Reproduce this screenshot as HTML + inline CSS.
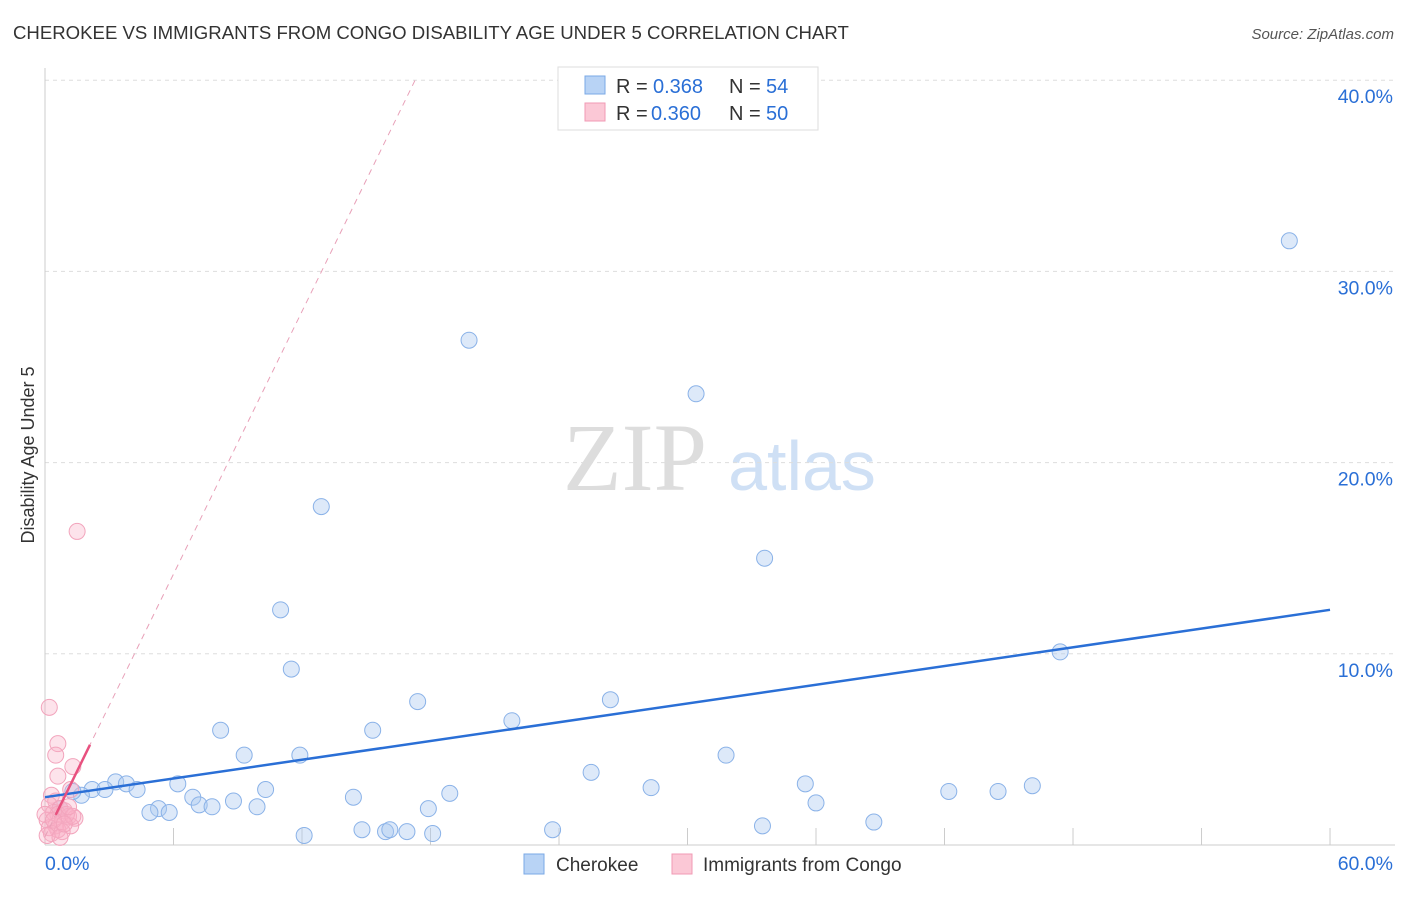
<!DOCTYPE html>
<html><head><meta charset="utf-8"><style>
body{margin:0;background:#fff;font-family:"Liberation Sans",sans-serif;}
</style></head><body>
<svg id="chart" width="1406" height="892" xmlns="http://www.w3.org/2000/svg" font-family="Liberation Sans, sans-serif">
<text x="13" y="39" font-size="18.6" fill="#333">CHEROKEE VS IMMIGRANTS FROM CONGO DISABILITY AGE UNDER 5 CORRELATION CHART</text>
<text x="1394" y="39" font-size="15" fill="#555" text-anchor="end" font-style="italic">Source: ZipAtlas.com</text>
<text transform="translate(34,455) rotate(-90)" font-size="18" fill="#333" text-anchor="middle">Disability Age Under 5</text>
<g>
<text x="635" y="490" font-size="96" fill="#ddd" style="font-family:'Liberation Serif',serif" text-anchor="middle">ZIP</text>
<text x="802" y="490" font-size="70" fill="#cfe0f5" text-anchor="middle">atlas</text>
</g>
<g id="grid"></g><g id="axes"></g><g id="pts"></g><g id="lines"></g>
<g>
<rect x="558" y="67" width="260" height="63" fill="#fff" stroke="#ddd"/>
<rect x="585" y="76" width="20" height="18" fill="#b8d3f5" stroke="#7aa8e6"/>
<text x="616" y="93" font-size="20" fill="#333">R =</text>
<text x="653" y="93" font-size="20" fill="#2a6fd6">0.368</text>
<text x="729" y="93" font-size="20" fill="#333">N =</text>
<text x="766" y="93" font-size="20" fill="#2a6fd6">54</text>
<rect x="585" y="103" width="20" height="18" fill="#fbc8d6" stroke="#f09ab4"/>
<text x="616" y="120" font-size="20" fill="#333">R =</text>
<text x="651" y="120" font-size="20" fill="#2a6fd6">0.360</text>
<text x="729" y="120" font-size="20" fill="#333">N =</text>
<text x="766" y="120" font-size="20" fill="#2a6fd6">50</text>
</g>
<g>
<rect x="524" y="854" width="20" height="20" fill="#b8d3f5" stroke="#7aa8e6"/>
<text x="556" y="871" font-size="19" fill="#333">Cherokee</text>
<rect x="672" y="854" width="20" height="20" fill="#fbc8d6" stroke="#f09ab4"/>
<text x="703" y="871" font-size="19" fill="#333">Immigrants from Congo</text>
</g>
</svg>
<script>
const yTicks=[10,20,30,40];
const yTickLabels=["10.0%","20.0%","30.0%","40.0%"];
const xTickLabels=["0.0%","60.0%"];
const blueX=[58.1,19.8,30.4,12.9,33.6,11.0,47.4,11.5,17.4,26.4,21.8,8.2,15.3,9.3,11.9,31.8,25.5,35.5,46.1,42.2,44.5,28.3,6.2,3.3,3.8,4.3,2.2,2.8,1.7,1.3,10.3,6.9,8.8,7.2,7.8,9.9,14.4,18.9,17.9,5.3,4.9,5.8,36.0,12.1,14.8,15.9,16.1,16.9,18.1,23.7,33.5,38.7,0.7];
const blueY=[31.6,26.4,23.6,17.7,15.0,12.3,10.1,9.2,7.5,7.6,6.5,6.0,6.0,4.7,4.7,4.7,3.8,3.2,3.1,2.8,2.8,3.0,3.2,3.3,3.2,2.9,2.9,2.9,2.6,2.8,2.9,2.5,2.3,2.1,2.0,2.0,2.5,2.7,1.9,1.9,1.7,1.7,2.2,0.5,0.8,0.7,0.8,0.7,0.6,0.8,1.0,1.2,1.9];
const pinkX=[1.5,0.2,0.6,0.5,1.3,0.6,1.2,0.3,0.5,0.2,0.7,0.9,0.4,0.6,1.1,1.4,0.1,0.8,0.5,1.2,0.2,0.6,0.8,0.3,0.1,0.7,1.0,1.3,0.0,0.4,0.9,1.1];
const pinkY=[16.4,7.2,5.3,4.7,4.1,3.6,2.9,2.6,2.3,2.1,1.9,1.8,1.7,1.6,1.5,1.4,1.3,1.2,1.0,1.0,0.9,0.8,0.7,0.6,0.5,0.4,1.6,1.5,1.6,1.3,1.1,2.0];
const blueFit=[2.5,12.3];
const pinkFit=[0.43,2.29];
const X=v=>45+v*21.417, Y=v=>845-v*19.12;
const NS="http://www.w3.org/2000/svg";
function mk(p,t,a){const e=document.createElementNS(NS,t);for(const k in a)e.setAttribute(k,a[k]);document.getElementById(p).appendChild(e);return e;}
yTicks.forEach((t,i)=>{
 const g=mk('grid','line',{x1:45,x2:1395,y1:Y(t),y2:Y(t),stroke:'#ddd','stroke-dasharray':'4,4'});
 
 
 const l=mk('axes','text',{x:1393,y:Y(t)+23,'font-size':19.5,fill:'#2a6fd6','text-anchor':'end'});l.textContent=yTickLabels[i];
 
 
});
mk('axes','line',{x1:45,x2:45,y1:68,y2:845,stroke:'#ccc'});
mk('axes','line',{x1:45,x2:1395,y1:845,y2:845,stroke:'#ccc'});
for(let i=1;i<=10;i++){const e=mk('axes','line',{x1:X(i*6),x2:X(i*6),y1:828,y2:845,stroke:'#ccc'});
 
 }
[[0,45,'start'],[1,1393,'end']].forEach(([i,x,a])=>{const t=mk('axes','text',{x:x,y:870,'font-size':19.5,fill:'#2a6fd6','text-anchor':a});t.textContent=xTickLabels[i];
 
 });
blueX.forEach((v,i)=>{const c=mk('pts','circle',{cx:X(v),cy:Y(blueY[i]),r:8,fill:'rgba(170,200,240,0.4)',stroke:'#8ab2e8','stroke-width':1});
 
 });
pinkX.forEach((v,i)=>{const c=mk('pts','circle',{cx:X(v),cy:Y(pinkY[i]),r:8,fill:'rgba(248,175,198,0.35)',stroke:'#f2a4bc','stroke-width':1});
 
 });
const bl=mk('lines','line',{x1:X(0),y1:Y(blueFit[0]),x2:X(60),y2:Y(blueFit[1]),stroke:'#2a6fd6','stroke-width':2.5});


const xe=(40-pinkFit[0])/pinkFit[1];
const pd=mk('lines','line',{x1:X(0),y1:Y(pinkFit[0]),x2:X(xe),y2:Y(40),stroke:'#e8a0b8','stroke-width':1,'stroke-dasharray':'6,5'});


const ps=mk('lines','line',{x1:X(0.5),y1:Y(pinkFit[0]+0.5*pinkFit[1]),x2:X(2.1),y2:Y(pinkFit[0]+2.1*pinkFit[1]),stroke:'#e8517f','stroke-width':2.5});


</script>
</body></html>
